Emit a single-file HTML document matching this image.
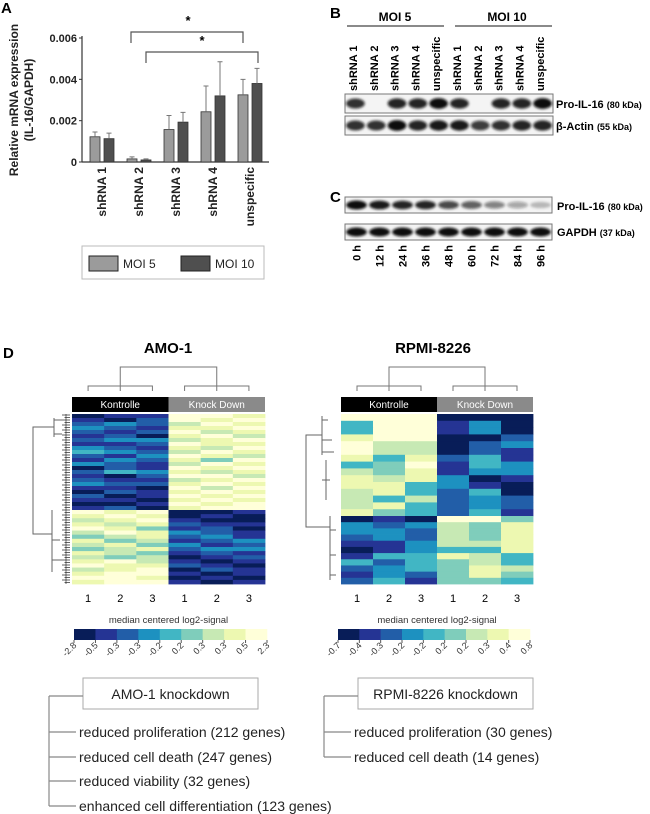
<!DOCTYPE html>
<html><head><meta charset="utf-8"><style>
html,body{margin:0;padding:0;background:#fff;}
svg{display:block;font-family:"Liberation Sans",Arial,sans-serif;}
</style></head><body>
<svg id="fig" width="650" height="814" viewBox="0 0 650 814">
<defs><filter id="blur" x="-20%" y="-50%" width="140%" height="200%"><feGaussianBlur stdDeviation="1.2"/></filter></defs>
<text x="1" y="13" font-size="15" font-weight="bold">A</text>
<text x="330" y="18" font-size="15" font-weight="bold">B</text>
<text x="330" y="202" font-size="15" font-weight="bold">C</text>
<text x="3" y="358" font-size="15" font-weight="bold">D</text>
<g id="pA"></g>
<g id="pB"></g>
<g id="pC"></g>
<g id="pD"></g>
<g id="pE"></g>
</svg>
<script>
const NS='http://www.w3.org/2000/svg';
function mk(tag,attrs,parent,txt){const e=document.createElementNS(NS,tag);for(const k in attrs)e.setAttribute(k,attrs[k]);if(txt!==undefined)e.textContent=txt;parent.appendChild(e);return e;}

/* ---------- Panel A data ---------- */
const categories=['shRNA 1','shRNA 2','shRNA 3','shRNA 4','unspecific'];
const moi5=[0.00122,0.00015,0.00157,0.00243,0.00325];
const moi10=[0.00113,0.0001,0.00193,0.0032,0.0038];
const moi5Err=[0.00023,0.0001,0.00068,0.00125,0.00075];
const moi10Err=[0.00027,0.00005,0.00047,0.00165,0.00073];
const yTicks=[0,0.002,0.004,0.006];
const yTickLabels=['0','0.002','0.004','0.006'];

const pA=document.getElementById('pA');
const yScale=v=>162-v/0.006*124;
const xGroup=i=>90+i*37;
let el;
el=mk('line',{x1:82,y1:36,x2:82,y2:162,stroke:'#333','stroke-width':1.2},pA);


el=mk('line',{x1:82,y1:162,x2:269,y2:162,stroke:'#333','stroke-width':1.2},pA);


yTicks.forEach((t,i)=>{
  mk('line',{x1:79,x2:82,y1:yScale(t),y2:yScale(t),stroke:'#333'},pA);
  el=mk('text',{x:77,y:yScale(t)+4,'text-anchor':'end','font-size':11,'font-weight':'bold',fill:'#222'},pA,yTickLabels[i]);
  
  
});
el=mk('text',{transform:'translate(18,100) rotate(-90)','text-anchor':'middle','font-size':12,'font-weight':'bold',fill:'#222'},pA,'Relative mRNA expression');


el=mk('text',{transform:'translate(33,100) rotate(-90)','text-anchor':'middle','font-size':12,'font-weight':'bold',fill:'#222'},pA,'(IL-16/GAPDH)');


categories.forEach((c,i)=>{
  const gx=xGroup(i);
  [[moi5,moi5Err,0,'#9b9b9b'],[moi10,moi10Err,14,'#4f4f4f']].forEach(([vals,errs,off,col],s)=>{
    const x=gx+off, yt=yScale(vals[i]);
    el=mk('rect',{x:x,y:yt,width:10,height:162-yt,fill:col,stroke:'#333','stroke-width':0.8},pA);
    
    
    const ye=yScale(vals[i]+errs[i]);
    el=mk('path',{d:`M${x+5},${yt}V${ye}M${x+2.5},${ye}H${x+7.5}`,stroke:'#777','stroke-width':1,fill:'none'},pA);
    
    
  });
  el=mk('text',{transform:`translate(${gx+16},167) rotate(-90)`,'text-anchor':'end','font-size':12,'font-weight':'bold',fill:'#222'},pA,c);
  
  
});
el=mk('path',{d:'M131,43V32H243V43M146,63V52H258V63',stroke:'#555','stroke-width':1.2,fill:'none'},pA);


el=mk('text',{x:188,y:25,'text-anchor':'middle','font-size':13,'font-weight':'bold'},pA,'*');


el=mk('text',{x:202,y:45,'text-anchor':'middle','font-size':13,'font-weight':'bold'},pA,'*');


el=mk('rect',{x:82,y:246,width:182,height:33,fill:'#fff',stroke:'#bbb','stroke-width':1},pA);


el=mk('rect',{x:89,y:256,width:29,height:15,fill:'#9b9b9b',stroke:'#222'},pA);


el=mk('text',{x:123,y:268,'font-size':12,fill:'#222'},pA,'MOI 5');


el=mk('rect',{x:181,y:256,width:29,height:15,fill:'#4f4f4f',stroke:'#222'},pA);


el=mk('text',{x:215,y:268,'font-size':12,fill:'#222'},pA,'MOI 10');



/* ---------- Panel B/C blots ---------- */
const laneLabelsB=['shRNA 1','shRNA 2','shRNA 3','shRNA 4','unspecific','shRNA 1','shRNA 2','shRNA 3','shRNA 4','unspecific'];
const proB=[0.85,0,0.9,0.9,1,0.9,0,0.9,0.9,1];
const actinB=[0.85,0.85,1,0.9,0.95,0.95,0.8,0.85,0.9,0.9];
const timeLabels=['0 h','12 h','24 h','36 h','48 h','60 h','72 h','84 h','96 h'];
const proC=[1,0.95,0.9,0.9,0.75,0.65,0.5,0.35,0.25];
const gapdhC=[1,1,1,1,1,1,1,1,1];

function blot(g,x0,x1,y0,y1,vals,name){
  el=mk('rect',{x:x0,y:y0,width:x1-x0,height:y1-y0,fill:'#f4f4f4',stroke:'#777','stroke-width':1},g);
  
  
  const n=vals.length,w=(x1-x0)/n;
  vals.forEach((v,i)=>{ if(v<=0)return;
    el=mk('ellipse',{cx:x0+w*(i+0.5),cy:(y0+y1)/2,rx:w*0.45,ry:(y1-y0)*0.28*(0.6+0.4*v),fill:'#111','fill-opacity':v,filter:'url(#blur)'},g);
    
    
  });
}
const pB=document.getElementById('pB');
el=mk('text',{x:395,y:21,'text-anchor':'middle','font-size':12,'font-weight':'bold'},pB,'MOI 5');


el=mk('text',{x:507,y:21,'text-anchor':'middle','font-size':12,'font-weight':'bold'},pB,'MOI 10');


mk('path',{d:'M347,26H444M455,26H552',stroke:'#444','stroke-width':1.2},pB);
laneLabelsB.forEach((l,i)=>{
  el=mk('text',{transform:`translate(${353+i*20.8+4},91) rotate(-90)`,'font-size':11,'font-weight':'bold'},pB,l);
  
  
});
blot(pB,345,553,94,113,proB,'pro-il16-blot');
blot(pB,345,553,116,135,actinB,'actin-blot');
el=mk('text',{x:556,y:108,'font-size':11,'font-weight':'bold'},pB,'Pro-IL-16 ');


mk('tspan',{'font-size':9},el,'(80 kDa)');
el=mk('text',{x:556,y:130,'font-size':11,'font-weight':'bold'},pB,'β-Actin ');


mk('tspan',{'font-size':9},el,'(55 kDa)');
const pC=document.getElementById('pC');
blot(pC,345,552,197,213,proC,'pro-il16-time-blot');
blot(pC,345,552,224,240,gapdhC,'gapdh-blot');
el=mk('text',{x:557,y:210,'font-size':11,'font-weight':'bold'},pC,'Pro-IL-16 ');


mk('tspan',{'font-size':9},el,'(80 kDa)');
el=mk('text',{x:557,y:236,'font-size':11,'font-weight':'bold'},pC,'GAPDH ');


mk('tspan',{'font-size':9},el,'(37 kDa)');
timeLabels.forEach((l,i)=>{
  el=mk('text',{transform:`translate(${345+23*(i+0.5)+4},245) rotate(-90)`,'text-anchor':'end','font-size':11,'font-weight':'bold'},pC,l);
  
  
});

/* ---------- Panel D heatmaps ---------- */
const palette=['#081d58','#253494','#225ea8','#1d91c0','#41b6c4','#7fcdbb','#c7e9b4','#edf8b1','#ffffd9'];
const amoTop=[
[0,1,1,8,8,7],[1,0,2,8,7,8],[2,3,2,6,8,7],[3,2,1,7,7,8],[2,1,2,8,6,7],[1,2,0,7,8,6],
[2,3,3,6,7,8],[1,1,2,8,7,7],[3,2,1,7,6,8],[4,3,2,6,8,7],[2,1,3,8,7,6],[1,3,2,7,5,8],
[3,2,1,6,8,7],[0,2,1,8,7,8],[2,4,3,7,6,7],[1,0,2,8,8,6],[2,1,1,6,7,8],[3,2,2,7,8,7],
[1,1,0,8,6,8],[0,2,1,7,8,7],[2,0,1,8,7,8],[1,1,0,7,8,7],[0,0,1,8,7,8],[1,2,0,7,8,8]];
const amoBot=[
[8,7,8,0,0,1],[7,8,7,0,1,0],[6,7,8,1,0,0],[7,6,7,2,1,1],[8,7,5,1,2,0],[6,8,7,3,2,1],
[5,6,7,2,3,1],[7,5,6,1,2,3],[6,7,5,3,1,2],[5,6,7,2,3,3],[7,6,5,1,2,1],[6,5,6,0,1,2],
[7,8,6,1,0,1],[8,7,7,2,1,0],[6,7,8,0,2,1],[7,8,8,1,0,1],[8,8,7,0,1,0],[7,8,8,1,0,1]];
const rpmiTop=[
[8,8,8,0,0,0],[4,8,8,1,3,0],[4,8,8,1,3,0],[7,8,8,0,0,2],[8,6,6,0,2,3],[8,6,6,0,2,1],
[7,4,7,2,4,1],[4,5,8,1,4,3],[6,5,7,1,3,3],[7,6,7,3,0,1],[7,7,4,3,1,0],[6,7,4,2,4,0],
[6,4,6,2,3,2],[6,7,4,2,3,2],[7,5,4,2,4,1]];
const rpmiBot=[
[0,1,0,8,8,5],[3,2,3,6,5,7],[3,3,2,6,5,7],[2,3,2,6,5,7],[1,1,3,6,6,7],[0,1,3,4,4,7],
[1,4,4,7,6,4],[4,2,4,5,6,4],[2,3,4,5,7,6],[1,3,2,5,7,5],[2,4,1,5,5,4]];
const amoScaleLabels=['-2.8','-0.5','-0.3','-0.3','-0.2','0.2','0.3','0.3','0.5','2.3'];
const rpmiScaleLabels=['-0.7','-0.4','-0.3','-0.2','-0.2','0.2','0.2','0.3','0.4','0.8'];

const pD=document.getElementById('pD');
function heat(x0,x1,y0,ys,y1,top,bot,pre){
  const cw=(x1-x0)/6;
  [[top,y0,ys],[bot,ys,y1]].forEach(([rows,a,b])=>{
    const rh=(b-a)/rows.length;
    rows.forEach((r,ri)=>r.forEach((v,ci)=>{
      el=mk('rect',{x:x0+ci*cw,y:a+ri*rh,width:cw+0.4,height:rh+0.4,fill:palette[v]},pD);
      
      
    }));
  });
  const xm=(x0+x1)/2;
  el=mk('rect',{x:x0,y:397,width:xm-x0,height:15,fill:'#000'},pD);
  
  
  el=mk('rect',{x:xm,y:397,width:x1-xm,height:15,fill:'#8a8a8a'},pD);
  
  
  mk('text',{x:(x0+xm)/2,y:408,'text-anchor':'middle','font-size':10,fill:'#fff'},pD,'Kontrolle');
  mk('text',{x:(xm+x1)/2,y:408,'text-anchor':'middle','font-size':10,fill:'#fff'},pD,'Knock Down');
  const c=i=>x0+cw*(i+0.5);
  el=mk('path',{d:`M${c(0)},391V386H${c(2)}V391M${c(1)},391V386M${c(3)},391V386H${c(5)}V391M${c(4)},391V386M${(c(0)+c(2))/2},386V367H${(c(3)+c(5))/2}V386`,stroke:'#777','stroke-width':1,fill:'none'},pD);
  
  
  [1,2,3,1,2,3].forEach((n,i)=>{
    el=mk('text',{x:c(i),y:602,'text-anchor':'middle','font-size':11},pD,String(n));
    
    
  });
  el=mk('text',{x:xm,y:623,'text-anchor':'middle','font-size':9.5,fill:'#333'},pD,'median centered log2-signal');
  
  
}
heat(72,265,414,510,584,amoTop,amoBot,'amo1');
heat(341,533,414,516,584,rpmiTop,rpmiBot,'rpmi');
el=mk('text',{x:168,y:353,'text-anchor':'middle','font-size':15,'font-weight':'bold'},pD,'AMO-1');


el=mk('text',{x:433,y:353,'text-anchor':'middle','font-size':15,'font-weight':'bold'},pD,'RPMI-8226');


function colorbar(x0,x1,labels,pre){
  const w=(x1-x0)/9;
  palette.forEach((p,i)=>{
    el=mk('rect',{x:x0+i*w,y:629,width:w+0.3,height:11,fill:p},pD);
    
    
  });
  labels.forEach((l,i)=>{
    const x=x0+i*w;
    mk('line',{x1:x,x2:x,y1:640,y2:643,stroke:'#555'},pD);
    el=mk('text',{transform:`translate(${x+3},646) rotate(-45)`,'text-anchor':'end','font-size':9,fill:'#333'},pD,l);
    
    
  });
}
colorbar(74,267,amoScaleLabels,'amo1');
colorbar(338,530,rpmiScaleLabels,'rpmi');
el=mk('path',{d:'M54,418V437M54,427H33V534H52M52,510V572M52,540H60M52,560H62M54,420H62M54,434H62',stroke:'#666','stroke-width':1,fill:'none'},pD);


let leafD='M66,414V584';
for(let yy=415;yy<584;yy+=2.5){leafD+=`M${62+(yy*7%5)},${yy}H70`;}
el=mk('path',{d:leafD,stroke:'#333','stroke-width':0.7,fill:'none'},pD);


el=mk('path',{d:'M322,416V455M322,435H306V527H330M330,516V580M322,420H328M322,440H332M322,452H334M330,530H336M330,555H336M330,575H336M326,460V500M322,480H330',stroke:'#666','stroke-width':1,fill:'none'},pD);



/* ---------- bottom trees ---------- */
const pE=document.getElementById('pE');
function tree(bx0,bx1,label,tx,items){
  el=mk('rect',{x:bx0,y:678,width:bx1-bx0,height:31,fill:'#fff',stroke:'#aaa'},pE);
  
  
  el=mk('text',{x:(bx0+bx1)/2,y:699,'text-anchor':'middle','font-size':14,fill:'#222'},pE,label);
  
  
  const ys=[732,757,781,806];
  let d=`M${tx},696H${bx0}M${tx},696V${ys[items.length-1]}`;
  items.forEach((t,i)=>{d+=`M${tx},${ys[i]}H${tx+27}`;
    el=mk('text',{x:tx+30,y:ys[i]+5,'font-size':14,fill:'#222'},pE,t);
    
    
  });
  mk('path',{d:d,stroke:'#888','stroke-width':1.2,fill:'none'},pE);
}
tree(83,258,'AMO-1 knockdown',49,['reduced proliferation (212 genes)','reduced cell death (247 genes)','reduced viability (32 genes)','enhanced cell differentiation (123 genes)']);
tree(358,533,'RPMI-8226 knockdown',324,['reduced proliferation (30 genes)','reduced cell death (14 genes)']);
</script>
</body></html>
